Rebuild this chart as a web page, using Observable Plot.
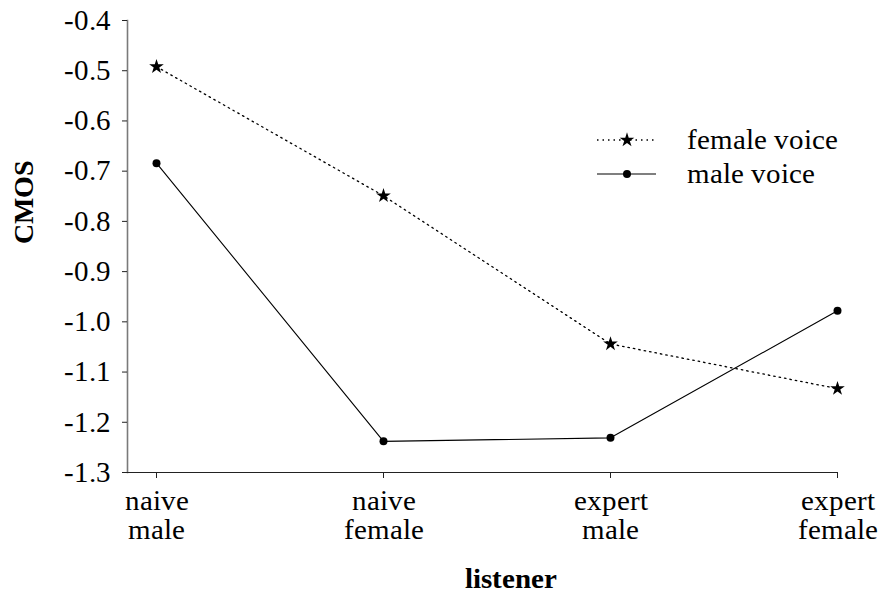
<!DOCTYPE html>
<html>
<head>
<meta charset="utf-8">
<script src="https://cdn.jsdelivr.net/npm/d3@7"></script>
<script src="https://cdn.jsdelivr.net/npm/@observablehq/plot@0.6"></script>
<style>
  @font-face { font-family: "ChartSerif"; src: local("Liberation Serif"), local("LiberationSerif"), local("DejaVu Serif"); font-weight: normal; }
  @font-face { font-family: "ChartSerif"; src: local("Liberation Serif Bold"), local("LiberationSerif-Bold"), local("DejaVu Serif Bold"); font-weight: bold; }
  html, body { margin: 0; padding: 0; background: #fff; }
  #chart { position: relative; width: 882px; height: 597px; }
</style>
</head>
<body>
<div id="chart"></div>
<script>
const listeners = ["naive\nmale", "naive\nfemale", "expert\nmale", "expert\nfemale"];
const femaleVoice = [-0.492, -0.749, -1.044, -1.133];
const maleVoice = [-0.684, -1.238, -1.231, -0.978];
const yTicks = [-1.3, -1.2, -1.1, -1.0, -0.9, -0.8, -0.7, -0.6, -0.5, -0.4];
const seriesNames = ["female voice", "male voice"];

const femaleData = listeners.map((l, i) => ({listener: l, value: femaleVoice[i], series: seriesNames[0]}));
const maleData = listeners.map((l, i) => ({listener: l, value: maleVoice[i], series: seriesNames[1]}));

const FF = "ChartSerif, 'Liberation Serif', 'DejaVu Serif', serif";

const plot = Plot.plot({
  width: 882,
  height: 597,
  marginLeft: 127,
  marginRight: 44,
  marginTop: 20,
  marginBottom: 125,
  style: {fontFamily: FF, background: "#fff", color: "#000", overflow: "visible"},
  x: {type: "point", domain: listeners, range: [156, 837], padding: 0},
  y: {domain: [-1.3, -0.4]},
  marks: [
    Plot.frame({anchor: "left", stroke: "#7a7a7a", strokeWidth: 1.6}),
    Plot.ruleY([-1.3], {stroke: "#222", strokeWidth: 1.2}),
    Plot.axisY({ticks: yTicks, tickFormat: d => d.toFixed(1), tickSize: 5, tickPadding: 12, fontSize: 29, fontFamily: FF, label: null, stroke: "#222"}),
    Plot.axisX({tickSize: 6, tickPadding: 11, fontSize: 29, fontFamily: FF, label: null, lineHeight: 1.0, stroke: "#222"}),
    Plot.line(femaleData, {x: "listener", y: "value", stroke: "#000", strokeWidth: 1.3, strokeDasharray: "1.5,4"}),
    Plot.line(maleData, {x: "listener", y: "value", stroke: "#000", strokeWidth: 1.1}),
    Plot.dot(femaleData, {x: "listener", y: "value", symbol: "star", r: 4.6, fill: "#000", stroke: "none"}),
    Plot.dot(maleData, {x: "listener", y: "value", symbol: "circle", r: 4, fill: "#000", stroke: "none"}),
    Plot.text(["CMOS"], {text: d => d, frameAnchor: "left", rotate: -90, dx: -103, dy: -3, fontSize: 28, fontFamily: FF, fontWeight: "bold", fill: "#000"}),
    Plot.text(["listener"], {text: d => d, frameAnchor: "bottom", dx: 28, dy: 106, lineAnchor: "middle", fontSize: 29, fontFamily: FF, fontWeight: "bold", fill: "#000"})
  ]
});

document.getElementById("chart").appendChild(plot);

// legend (drawn inside the plot's svg)
const svg = d3.select(plot);
const leg = svg.append("g").attr("class", "legend").attr("text-anchor", "start").attr("font-family", FF);
const rows = [
  {name: seriesNames[0], dash: "1.5,4", sym: d3.symbolStar, size: 66},
  {name: seriesNames[1], dash: null, sym: d3.symbolCircle, size: 50}
];
rows.forEach((r, i) => {
  const g = leg.append("g").attr("transform", `translate(597,${140 + i * 34})`);
  g.append("line").attr("x1", 0).attr("x2", 59).attr("y1", 0).attr("y2", 0)
    .attr("stroke", "#000").attr("stroke-width", r.dash ? 1.3 : 1.1)
    .attr("stroke-dasharray", r.dash);
  g.append("path").attr("d", d3.symbol(r.sym, r.size)()).attr("transform", "translate(30,0)").attr("fill", "#000");
  g.append("text").attr("x", 90).attr("y", 0).attr("dy", "0.32em")
    .attr("text-anchor", "start").attr("font-family", FF).attr("font-size", 29).attr("fill", "#000").text(r.name);
});
</script>
</body>
</html>
